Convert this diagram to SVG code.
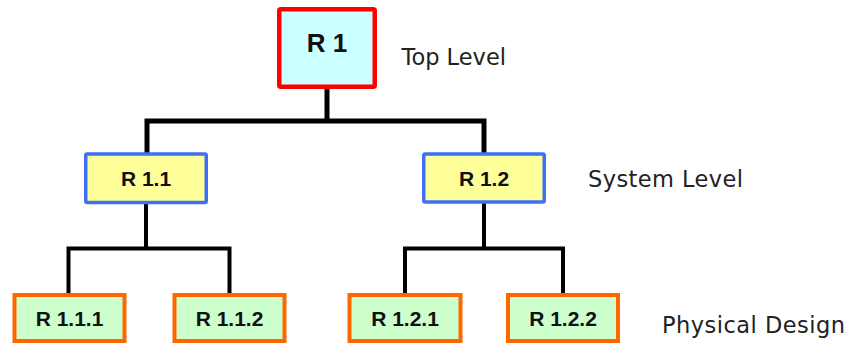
<svg xmlns="http://www.w3.org/2000/svg" width="847" height="344" viewBox="0 0 847 344">
  <style>
    .wire { fill: none; stroke: #000; stroke-linecap: round; stroke-linejoin: miter; }
    .top rect { fill: #ccffff; stroke: #ff0000; stroke-width: 4.5; }
    .sys rect { fill: #ffff99; stroke: #3f6ff2; stroke-width: 3.5; }
    .phy rect { fill: #ccffcc; stroke: #ff6600; stroke-width: 4; }
    .box text { font-family: "Liberation Sans", Arial, sans-serif; font-weight: bold; fill: #111; text-anchor: middle; }
    .lvl { font-family: "DejaVu Sans", Verdana, sans-serif; font-size: 22.5px; fill: #222; }
  </style>

  <!-- connectors -->
  <g id="connectors">
    <path class="wire" stroke-width="5" d="M327 89 V121 M147 153 V121 H484 V153"/>
    <path class="wire" stroke-width="4" d="M146 204 V248.5 M68.5 294 V248.5 H229.5 V294"/>
    <path class="wire" stroke-width="4" d="M484 204 V248.5 M405 294 V248.5 H563 V294"/>
  </g>

  <!-- top level -->
  <g id="r1" class="box top">
    <rect x="279.25" y="9.25" width="95.5" height="77.5" rx="1.5"/>
    <text x="327" y="52" font-size="26">R 1</text>
  </g>

  <!-- system level -->
  <g id="r1-1" class="box sys">
    <rect x="85.75" y="154" width="120.5" height="48.5" rx="1.5"/>
    <text x="146" y="185.5" font-size="21">R 1.1</text>
  </g>
  <g id="r1-2" class="box sys">
    <rect x="423.75" y="154" width="120.5" height="48" rx="1.5"/>
    <text x="484" y="185.5" font-size="21">R 1.2</text>
  </g>

  <!-- physical design -->
  <g id="r1-1-1" class="box phy">
    <rect x="14.5" y="295" width="110" height="46"/>
    <text x="69.5" y="326" font-size="21">R 1.1.1</text>
  </g>
  <g id="r1-1-2" class="box phy">
    <rect x="174.5" y="295" width="110" height="46"/>
    <text x="229.5" y="326" font-size="21">R 1.1.2</text>
  </g>
  <g id="r1-2-1" class="box phy">
    <rect x="349.5" y="295" width="111" height="46"/>
    <text x="405" y="326" font-size="21">R 1.2.1</text>
  </g>
  <g id="r1-2-2" class="box phy">
    <rect x="508" y="295" width="110" height="46"/>
    <text x="563" y="326" font-size="21">R 1.2.2</text>
  </g>

  <!-- level labels -->
  <g id="labels">
    <text class="lvl" x="401.5" y="64.5">Top Level</text>
    <text class="lvl" x="588" y="187" textLength="155">System Level</text>
    <text class="lvl" x="662" y="333" textLength="183">Physical Design</text>
  </g>
</svg>
